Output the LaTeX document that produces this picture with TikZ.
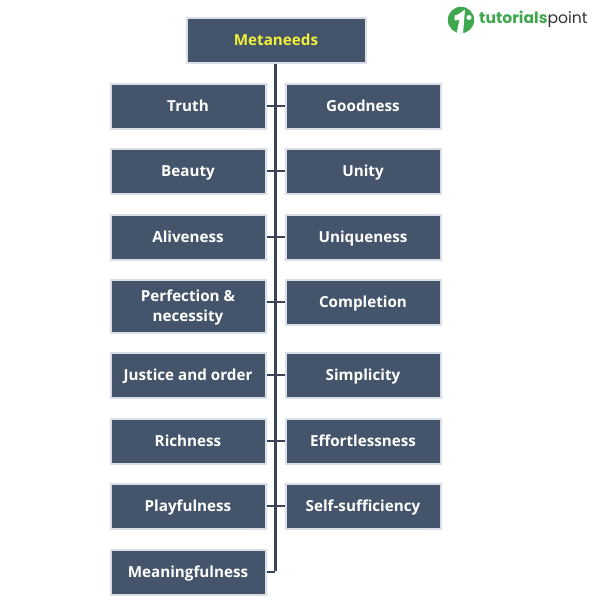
\documentclass[tikz,border=0pt]{standalone}
\usepackage{fontspec}
\setmainfont{Open Sans}
\newfontfamily\logofont{Poppins}
\definecolor{boxfill}{HTML}{44546A}
\definecolor{boxedge}{HTML}{DADFE7}
\definecolor{trunk}{HTML}{3A4657}
\definecolor{logogreen}{HTML}{3FA84E}
\definecolor{titley}{HTML}{F2F23A}
\tikzset{
  x=1pt,y=-1pt,
  need/.style={draw=boxedge,line width=2pt,fill=boxfill,text=white,font=\bfseries\fontsize{15.2}{20}\selectfont,align=center,inner sep=0pt,minimum width=155pt,minimum height=45pt,anchor=center},
  needone/.style={need,text height=12.5pt,text depth=2.5pt},
  wire/.style={draw=trunk,line width=2pt},
  mainwire/.style={draw=trunk,line width=3pt}
}
\begin{document}
\begin{tikzpicture}
\useasboundingbox[fill=white] (0,0) rectangle (600,603);
\node[needone,minimum width=179pt,text=titley] (top) at (276,40) {Metaneeds};
\node[needone] (l1) at (188,106) {Truth};
\node[needone] (l2) at (188,171) {Beauty};
\node[needone] (l3) at (188,237) {Aliveness};
\node[need,minimum height=53pt] (l4) at (188,306) {\rule{0pt}{16pt}Perfection \&\\\strut necessity};
\node[needone] (l5) at (188,375) {Justice and order};
\node[needone] (l6) at (188,441) {Richness};
\node[needone] (l7) at (188,506) {Playfulness};
\node[needone] (l8) at (188,572) {Meaningfulness};
\node[needone] (r1) at (363,106) {Goodness};
\node[needone] (r2) at (363,171) {Unity};
\node[needone] (r3) at (363,237) {Uniqueness};
\node[needone] (r4) at (363,302) {Completion};
\node[needone] (r5) at (363,375) {Simplicity};
\node[needone] (r6) at (363,441) {Effortlessness};
\node[needone] (r7) at (363,506) {Self-sufficiency};
\coordinate (end) at (275,572);
\draw[mainwire] (top.south -| end) -- ([yshift=1pt]end);
\foreach \n in {1,2,3,4,5,6,7}{
  \draw[wire] (l\n.east |- r\n.west) -- (r\n.west);
}
\draw[wire] (l8.east) -- (end);
% logo
\fill[logogreen] (461,20) circle[radius=13.2];
\begin{scope}
\clip (461,20) circle[radius=13.2];
\fill[white] (454.5,15.5) .. controls (459,15) and (461,12) .. (465,9.5) -- (463,34) -- (456.5,34) -- (459.5,19.5) .. controls (458,20.5) and (456,20.5) .. (454.5,20.5) -- cycle;
\fill[white] (469,17.5) circle[radius=2.5];
\end{scope}
\node[anchor=west,inner sep=0pt,font=\logofont\fontsize{15.6}{18}\selectfont] (logotext) at (479,19) {\textcolor{logogreen}{\textbf{tutorials}}\textcolor{black!80}{point}};
\end{tikzpicture}
\end{document}
